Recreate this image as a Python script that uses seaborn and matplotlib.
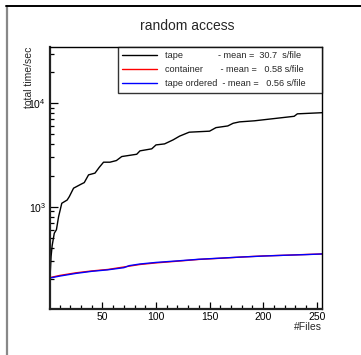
import numpy as np
import pandas as pd
import seaborn as sns
import matplotlib.pyplot as plt
from matplotlib.lines import Line2D
from matplotlib.ticker import LogLocator, LogFormatterSciNotation, MultipleLocator, NullFormatter

# Data (cumulative time in seconds vs number of files).
tape_files = [1, 2, 3, 5, 7, 9, 12, 17, 19, 23, 30, 33, 37, 43, 47, 51, 57, 63, 68,
              82, 85, 96, 100, 108, 116, 122, 131, 150, 156, 167, 172, 178, 192,
              229, 232, 255]
tape_time = [205, 330, 420, 555, 600, 800, 1080, 1160, 1250, 1510, 1650, 1710, 2030,
             2110, 2400, 2690, 2690, 2790, 3050, 3210, 3460, 3620, 3950, 4040, 4420,
             4800, 5240, 5360, 5800, 6020, 6390, 6590, 6750, 7460, 7880, 8080]

container_files = [1, 10, 25, 40, 55, 70, 85, 100, 120, 140, 160, 180, 200, 220, 240, 255]
container_time = [207, 217, 230, 240, 248, 262, 277, 287, 298, 310, 318, 327, 335, 340, 346, 350]

ordered_files = [1, 10, 25, 40, 55, 70, 75, 85, 100, 120, 140, 160, 180, 200, 220, 240, 255]
ordered_time = [205, 214, 227, 238, 246, 258, 270, 280, 290, 300, 311, 319, 327, 334, 340, 345, 350]

labels = ['tape              - mean =  30.7  s/file',
          'container       - mean =   0.58 s/file',
          'tape ordered  - mean =   0.56 s/file']
colors = ['black', '#ff0000', '#0000ff']

sns.set_theme(style='white')
plt.rcParams['font.family'] = ['Liberation Sans', 'DejaVu Sans']
plt.rcParams['mathtext.fontset'] = 'custom'
plt.rcParams['mathtext.rm'] = 'Liberation Sans'

df = pd.concat([
    pd.DataFrame({'files': tape_files, 'time': tape_time, 'series': labels[0]}),
    pd.DataFrame({'files': container_files, 'time': container_time, 'series': labels[1]}),
    pd.DataFrame({'files': ordered_files, 'time': ordered_time, 'series': labels[2]}),
])

fig = plt.figure(figsize=(3.61, 3.55), dpi=100)
ax = fig.add_axes([50 / 361, 46 / 355, 272 / 361, 262 / 355])

sns.lineplot(data=df, x='files', y='time', hue='series', palette=colors,
             linewidth=1.0, ax=ax, sort=False, estimator=None)

ax.set_yscale('log')
ax.set_xlim(1, 255)
ax.set_ylim(103, 34800)

ax.xaxis.set_major_locator(MultipleLocator(50))
ax.xaxis.set_minor_locator(MultipleLocator(10))
ax.yaxis.set_major_locator(LogLocator(base=10))
ax.yaxis.set_major_formatter(LogFormatterSciNotation())
ax.yaxis.set_minor_locator(LogLocator(base=10, subs=np.arange(2, 10)))
ax.yaxis.set_minor_formatter(NullFormatter())

ax.tick_params(axis='both', which='both', direction='in', colors='black',
               labelsize=7.5, top=False, right=False, bottom=True, left=True)
ax.tick_params(axis='x', which='major', length=5, width=0.9, pad=2)
ax.tick_params(axis='x', which='minor', length=2.9, width=0.9)
ax.tick_params(axis='y', which='major', length=5.8, width=0.9, pad=3)
ax.tick_params(axis='y', which='minor', length=2.9, width=0.9)

for side in ['top', 'right']:
    ax.spines[side].set_color('black')
    ax.spines[side].set_linewidth(1.0)
for side in ['left', 'bottom']:
    ax.spines[side].set_color('#222222')
    ax.spines[side].set_linewidth(1.6)

ax.set_xlabel('#Files', fontsize=7.5, loc='right')
ax.xaxis.set_label_coords(1.0, -0.05)
ax.set_ylabel('total time/sec', fontsize=7.5, loc='top')
ax.yaxis.set_label_coords(-0.06, 1.0)

ax.set_title('random access', fontsize=10, pad=0, y=1.0)
ax.title.set_position((0.5, 1.0))
fig.text(187 / 361, 1 - 26 / 355, 'random access', ha='center', va='center', fontsize=10)
ax.set_title('')

handles = [Line2D([], [], color=c, linewidth=1.0) for c in colors]
leg = ax.legend(handles, labels, loc='upper left', mode='expand',
                bbox_to_anchor=((118 - 50) / 272, 0, (322 - 118) / 272, 1.0),
                borderaxespad=0, fontsize=6.6, frameon=True, fancybox=False,
                edgecolor='black', handlelength=3.8, handletextpad=0.87,
                labelspacing=0.55, borderpad=0.47)
leg.get_frame().set_linewidth(1.0)

# canvas edges (top and left) like the original frame
fig.add_artist(Line2D([7 / 361, 7 / 361], [0, 1 - 6 / 355], color='#888888', linewidth=1.6))
fig.add_artist(Line2D([6 / 361, 1], [1 - 6 / 355, 1 - 6 / 355], color='black', linewidth=1.4))

fig.savefig('out.png', dpi=100)
